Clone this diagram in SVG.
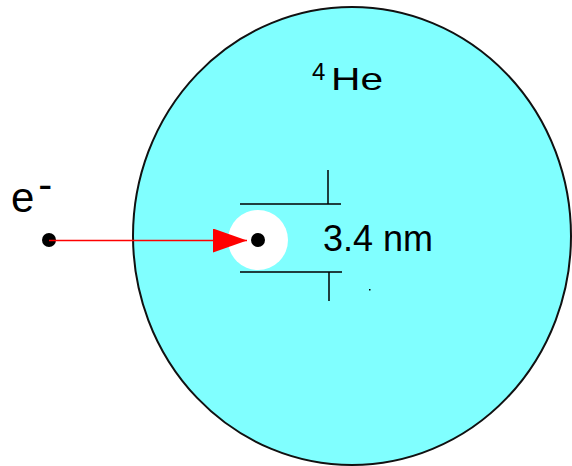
<svg xmlns="http://www.w3.org/2000/svg" width="572" height="466" viewBox="0 0 572 466">
  <style>
    .lbl { font-family: "Liberation Sans", Arial, sans-serif; fill: #000; }
    .dim { stroke: #000; stroke-width: 1.5; fill: none; }
    .dot { fill: #000; }
  </style>
  <defs>
    <marker id="arrow" markerUnits="userSpaceOnUse" markerWidth="34" markerHeight="24" refX="34" refY="12" orient="auto">
      <path d="M0,0 L34,12 L0,24 Z" fill="#ff0000"/>
    </marker>
  </defs>
  <rect width="572" height="466" fill="#ffffff"/>
  <g id="helium">
    <ellipse cx="352" cy="236" rx="219" ry="229" fill="#80ffff" stroke="#111" stroke-width="2"/>
    <text class="lbl" x="312" y="80" font-size="24">4</text>
    <text class="lbl" x="331" y="90" font-size="32" textLength="52" lengthAdjust="spacingAndGlyphs">He</text>
  </g>
  <g id="bubble">
    <circle cx="258" cy="240" r="30" fill="#ffffff"/>
    <circle class="dot" cx="258" cy="240" r="7"/>
  </g>
  <g id="dimension">
    <path class="dim" d="M240,204 H341 M328,170 V204 M240,272 H342 M329,272 V301"/>
    <text class="lbl" x="323" y="251" font-size="36">3.4 nm</text>
    <rect x="369" y="289" width="1.5" height="1.5" fill="#000"/>
  </g>
  <g id="electron">
    <circle class="dot" cx="49" cy="240" r="7"/>
    <text class="lbl" x="11" y="212" font-size="42">e<tspan dx="4" dy="-13">-</tspan></text>
  </g>
  <g id="connectors">
    <line x1="49" y1="240.5" x2="247" y2="240.5" stroke="#ff0000" stroke-width="1.5" marker-end="url(#arrow)"/>
  </g>
</svg>
